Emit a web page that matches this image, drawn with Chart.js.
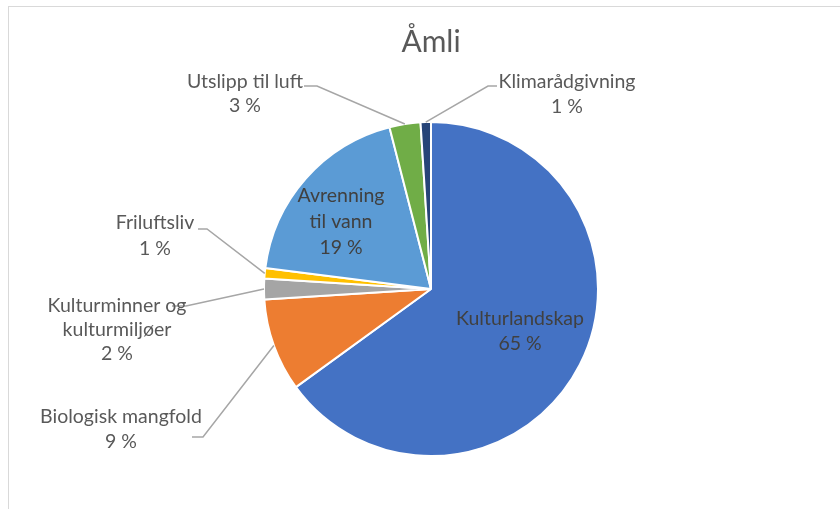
<!DOCTYPE html>
<html>
<head>
<meta charset="utf-8">
<script src="https://cdn.jsdelivr.net/npm/chart.js@4/dist/chart.umd.min.js"></script>
<style>
  html, body { margin: 0; padding: 0; background: #fff; overflow: hidden; }
  canvas { display: block; }
</style>
</head>
<body>
<canvas id="pie" width="840" height="518"></canvas>
<script>
// data
const chartTitle = "Åmli";
const categories = [
  "Kulturlandskap",
  "Biologisk mangfold",
  "Kulturminner og kulturmiljøer",
  "Friluftsliv",
  "Avrenning til vann",
  "Utslipp til luft",
  "Klimarådgivning",
];
const shares = [65, 9, 2, 1, 19, 3, 1];
const labelLines = [
  ["Kulturlandskap"],
  ["Biologisk mangfold"],
  ["Kulturminner og", "kulturmiljøer"],
  ["Friluftsliv"],
  ["Avrenning", "til vann"],
  ["Utslipp til luft"],
  ["Klimarådgivning"],
];
const sliceColors = ["#4472C4", "#ED7D31", "#A5A5A5", "#FFC000", "#5B9BD5", "#70AD47", "#264478"];

// where each data label sits (x = centre of text, y = first baseline)
const labelLayout = [
  { x: 520, y: 325, gap: 25, inside: true },
  { x: 121, y: 423, gap: 25, leader: [[192, 437], [203, 437]] },
  { x: 117, y: 312, gap: 24, leader: [[172, 306], [186, 306]] },
  { x: 155, y: 229, gap: 26, leader: [[198, 229], [207, 229]] },
  { x: 341, y: 202, gap: 26, inside: true },
  { x: 245, y: 88, gap: 24, leader: [[304, 86], [317, 86]] },
  { x: 567, y: 88, gap: 25, leader: [[497, 86], [488, 86]] },
];

const FONT = "Lato, 'Open Sans', sans-serif";

const framePlugin = {
  id: "frame",
  beforeDraw(chart) {
    const ctx = chart.ctx;
    ctx.save();
    ctx.strokeStyle = "#d9d9d9";
    ctx.lineWidth = 1;
    ctx.strokeRect(8.5, 6.5, chart.width + 20, chart.height + 20);
    ctx.restore();
  },
};

const labelPlugin = {
  id: "sliceLabels",
  afterDatasetsDraw(chart) {
    const ctx = chart.ctx;
    const arcs = chart.getDatasetMeta(0).data;
    ctx.save();
    arcs.forEach((arc, i) => {
      const lay = labelLayout[i];
      const lines = labelLines[i].concat([shares[i] + "\u00a0%"]);
      if (lay.leader) {
        const p = arc.getProps(["x", "y", "startAngle", "endAngle", "outerRadius"], true);
        const mid = (p.startAngle + p.endAngle) / 2;
        const ex = p.x + Math.cos(mid) * p.outerRadius;
        const ey = p.y + Math.sin(mid) * p.outerRadius;
        ctx.strokeStyle = "#a6a6a6";
        ctx.lineWidth = 1.5;
        ctx.beginPath();
        ctx.moveTo(lay.leader[0][0], lay.leader[0][1]);
        for (let k = 1; k < lay.leader.length; k++) ctx.lineTo(lay.leader[k][0], lay.leader[k][1]);
        ctx.lineTo(ex, ey);
        ctx.stroke();
      }
      ctx.fillStyle = lay.inside ? "#404040" : "#595959";
      ctx.font = "19.5px " + FONT;
      ctx.textAlign = "center";
      ctx.textBaseline = "alphabetic";
      lines.forEach((t, k) => ctx.fillText(t, lay.x, lay.y + k * lay.gap));
    });
    ctx.restore();
  },
};

new Chart(document.getElementById("pie"), {
  type: "pie",
  data: {
    labels: categories,
    datasets: [
      {
        data: shares,
        backgroundColor: sliceColors,
        borderColor: "#ffffff",
        borderWidth: 2,
        hoverOffset: 0,
      },
    ],
  },
  options: {
    responsive: false,
    animation: false,
    radius: 167,
    layout: { padding: { left: 22, right: 0, top: 0, bottom: 0 } },
    plugins: {
      legend: { display: false },
      tooltip: { enabled: false },
      title: {
        display: true,
        text: chartTitle,
        color: "#595959",
        font: { family: FONT, size: 30, weight: "normal" },
        padding: { top: 24, bottom: 0 },
      },
    },
  },
  plugins: [framePlugin, labelPlugin],
});
</script>
</body>
</html>
